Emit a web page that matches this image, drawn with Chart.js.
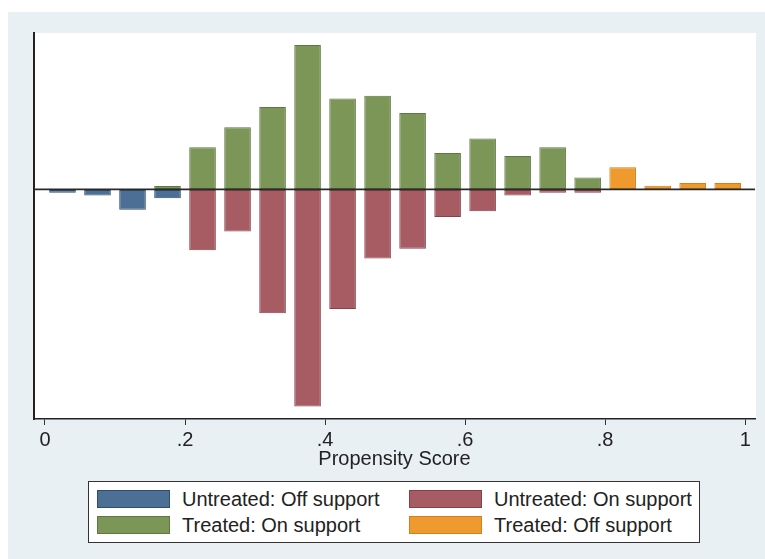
<!DOCTYPE html>
<html>
<head>
<meta charset="utf-8">
<script src="https://cdn.jsdelivr.net/npm/chart.js@4/dist/chart.umd.min.js"></script>
<style>
  html, body { margin: 0; padding: 0; background: #fff; }
  #bg { position: absolute; left: 8px; top: 12px; right: 0; bottom: 0; background: #e9f0f3; }
  #wrap { position: absolute; left: 0; top: 0; width: 765px; height: 559px; }
  #legend { position: absolute; left: 88px; top: 481px; width: 610px; height: 60px;
    border: 1px solid #333; background: #fff; font-family: "Liberation Sans", Arial, sans-serif;
    font-size: 20px; color: #222; }
  .item { position: absolute; height: 20px; line-height: 20px; white-space: nowrap; }
  .sw { position: absolute; left: 0; top: 0; width: 71px; height: 16px; border: 1px solid; }
  .lbl { position: absolute; left: 85px; top: -1px; }
</style>
</head>
<body>
<div id="bg"></div>
<div id="wrap"><canvas id="psgraph"></canvas></div>
<div id="legend"></div>
<script>
// bin centres of the propensity score histogram (width .05)
var binCenters = [0.025, 0.075, 0.125, 0.175, 0.225, 0.275, 0.325, 0.375, 0.425, 0.475,
                  0.525, 0.575, 0.625, 0.675, 0.725, 0.775, 0.825, 0.875, 0.925, 0.975];
var untreatedOff = [-1.1, -2, -6.8, -2.9, null, null, null, null, null, null,
                    null, null, null, null, null, null, null, null, null, null];
var untreatedOn = [null, null, null, null, -20.2, -14, -41.2, -72.2, -39.8, -23,
                   -19.7, -9.2, -7.3, -2, -1.1, -1.1, null, null, null, null];
var treatedOn = [null, null, null, 1.1, 14, 20.7, 27.4, 48, 30.2, 31.1,
                 25.4, 12.1, 16.9, 11.1, 14, 4, null, null, null, null];
var treatedOff = [null, null, null, null, null, null, null, null, null, null,
                  null, null, null, null, null, null, 7.4, 1.2, 2.1, 2.1];
var xTicks = [0, 0.2, 0.4, 0.6, 0.8, 1];

function pts(arr) {
  return binCenters.map(function (x, i) { return {x: x, y: arr[i]}; });
}

var plotBg = {
  id: 'plotBg',
  beforeDraw: function (chart) {
    var a = chart.chartArea, c = chart.ctx;
    c.save();
    c.fillStyle = '#ffffff';
    c.fillRect(a.left, a.top, a.right - a.left + 1, a.bottom - a.top);
    c.restore();
  },
  afterDatasetsDraw: function (chart) {
    var a = chart.chartArea, c = chart.ctx;
    var y0 = chart.scales.y.getPixelForValue(0);
    c.save();
    c.strokeStyle = '#2a2a2a';
    c.lineWidth = 1.6;
    c.beginPath();
    c.moveTo(a.left, y0);
    c.lineTo(a.right, y0);
    c.stroke();
    c.restore();
  }
};

var ctx = document.getElementById('psgraph');
var chart = new Chart(ctx, {
  type: 'bar',
  data: {
    datasets: [
      {label: 'Untreated: Off support', data: pts(untreatedOff), backgroundColor: '#4b6f95', borderColor: '#2f4e6e'},
      {label: 'Untreated: On support', data: pts(untreatedOn), backgroundColor: '#a75b63', borderColor: '#874049'},
      {label: 'Treated: On support', data: pts(treatedOn), backgroundColor: '#7b9656', borderColor: '#5d7843'},
      {label: 'Treated: Off support', data: pts(treatedOff), backgroundColor: '#ef9a2e', borderColor: '#d47f1c'}
    ]
  },
  options: {
    responsive: true, maintainAspectRatio: false, animation: false,
    layout: {padding: {left: 34, right: 10, top: 33, bottom: 88}},
    datasets: {bar: {borderWidth: 1, barPercentage: 0.76, categoryPercentage: 1, borderSkipped: false}},
    plugins: {legend: {display: false}, tooltip: {enabled: false}},
    scales: {
      x: {
        type: 'linear', stacked: true, offset: false, min: -0.0157, max: 1.014,
        afterBuildTicks: function (scale) { scale.ticks = xTicks.map(function (v) { return {value: v}; }); },
        grid: {offset: false, drawOnChartArea: false, drawTicks: true, tickLength: 6, color: '#333'},
        border: {display: true, color: '#222', width: 1.5},
        ticks: {
          color: '#222', padding: 3, maxRotation: 0,
          font: {family: '"Liberation Sans", Arial', size: 20},
          callback: function (v) { return v === 0 ? '0' : v === 1 ? '1' : String(+v.toFixed(1)).replace('0.', '.'); }
        },
        title: {display: true, text: 'Propensity Score', color: '#222', padding: {top: -8, bottom: 0},
                font: {family: '"Liberation Sans", Arial', size: 20}}
      },
      y: {
        stacked: true, min: -76.33, max: 52,
        ticks: {display: false},
        grid: {drawOnChartArea: false, drawTicks: false},
        border: {display: true, color: '#222', width: 2}
      }
    }
  },
  plugins: [plotBg]
});

// legend in two columns, built from the datasets
var legend = document.getElementById('legend');
chart.data.datasets.forEach(function (ds, i) {
  var col = i % 2, row = Math.floor(i / 2);
  var d = document.createElement('div');
  d.className = 'item';
  d.style.left = (col ? 320 : 8) + 'px';
  d.style.top = (row ? 34 : 8) + 'px';
  d.innerHTML = '<span class="sw" style="background:' + ds.backgroundColor + ';border-color:' + ds.borderColor +
    '"></span><span class="lbl">' + ds.label + '</span>';
  legend.appendChild(d);
});
</script>
</body>
</html>
